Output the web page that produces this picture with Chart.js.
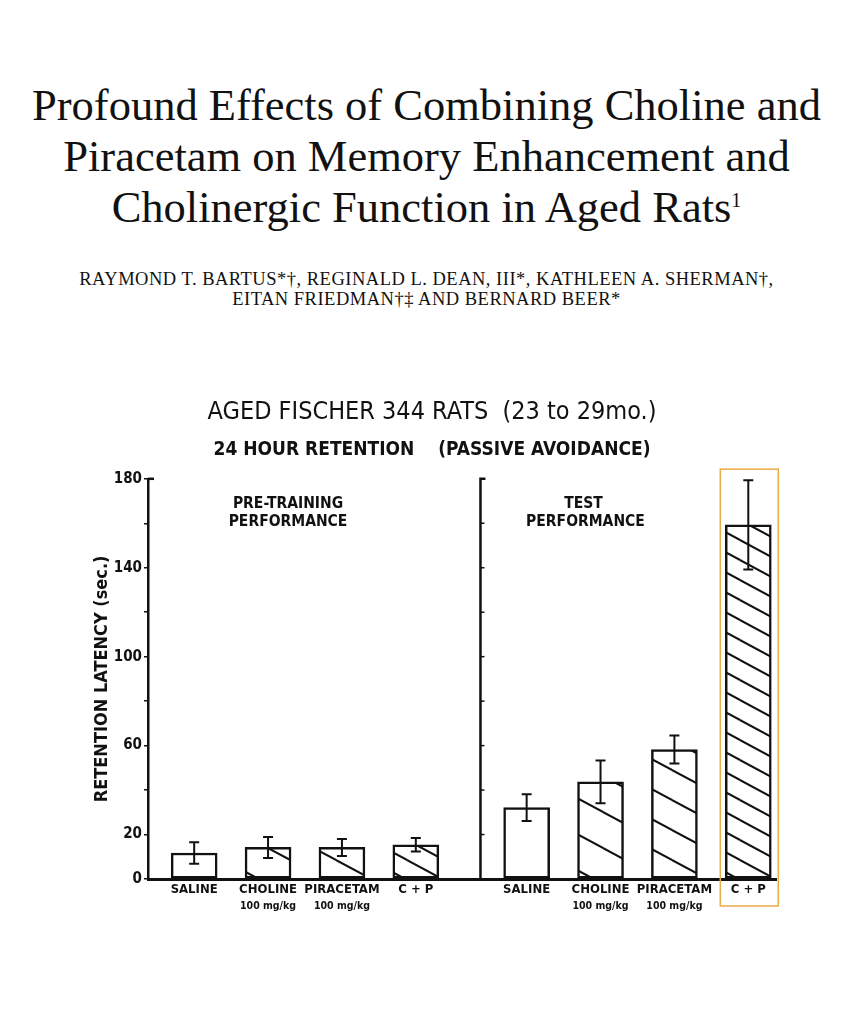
<!DOCTYPE html>
<html>
<head>
<meta charset="utf-8">
<script src="https://cdn.jsdelivr.net/npm/chart.js@4"></script>
<style>
  body { margin: 0; background: #fff; width: 853px; height: 1024px; position: relative; overflow: hidden; }
  .title {
    position: absolute; left: 0; top: 80px; width: 853px; text-align: center;
    font-family: "Liberation Serif", "Times New Roman", serif; font-size: 44.5px; line-height: 51px; color: #111;
  }
  .title sup { font-size: 20px; vertical-align: baseline; position: relative; top: -15px; }
  .authors {
    position: absolute; left: 0; top: 269px; width: 853px; text-align: center;
    font-family: "Liberation Serif", "Times New Roman", serif; font-size: 18.5px; letter-spacing: 0.5px;
    line-height: 20px; color: #111;
  }
  #wrap { position: absolute; left: 0; top: 380px; width: 853px; height: 560px; }
</style>
</head>
<body>
<div class="title">Profound Effects of Combining Choline and<br>Piracetam on Memory Enhancement and<br>Cholinergic Function in Aged Rats<sup>1</sup></div>
<div class="authors">RAYMOND T. BARTUS*†, REGINALD L. DEAN, III*, KATHLEEN A. SHERMAN†,<br>EITAN FRIEDMAN†‡ AND BERNARD BEER*</div>
<div id="wrap"><canvas id="chart" width="853" height="560"></canvas></div>
<script>
// data
const treatments = ["SALINE", "CHOLINE", "PIRACETAM", "C + P"];
const doses = ["", "100 mg/kg", "100 mg/kg", ""];
const preTraining = [11.7, 14.2, 14.2, 15.4];
const preTrainingSem = [4.8, 4.7, 3.8, 3.0];
const testScores = [32.1, 43.7, 58.2, 159.3];
const testSem = [6.0, 9.6, 6.3, 20.1];
const yTickLabels = [0, 20, 60, 100, 140, 180];

const FONT = '"DejaVu Sans Condensed", "Liberation Sans Narrow", "DejaVu Sans", sans-serif';
const INK = "#111";

// spread the bars over quarter slots so the two groups sit apart
const SLOTS = 34;
const labels = new Array(SLOTS).fill("");
const values = new Array(SLOTS).fill(null);
const errs = new Array(SLOTS).fill(null);
const doseAt = new Array(SLOTS).fill("");
const kind = new Array(SLOTS).fill(-1);
treatments.forEach((t, i) => {
  [[2, preTraining, preTrainingSem], [20, testScores, testSem]].forEach(([start, vals, sem]) => {
    const s = start + 4 * i;
    labels[s] = t;
    values[s] = vals[i];
    errs[s] = sem[i];
    doseAt[s] = doses[i];
    kind[s] = i;
  });
});
const lastTest = 20 + 4 * (treatments.length - 1);

function hatch(period) {
  const h = period, w = Math.round(period / 0.54);
  const c = document.createElement("canvas");
  c.width = w; c.height = h;
  const g = c.getContext("2d");
  g.fillStyle = "#fff";
  g.fillRect(0, 0, w, h);
  g.strokeStyle = INK;
  g.lineWidth = 2;
  for (const dx of [-w, 0, w]) {
    for (const dy of [-h, 0, h]) {
      g.beginPath();
      g.moveTo(dx, dy);
      g.lineTo(dx + w, dy + h);
      g.stroke();
    }
  }
  return g.createPattern(c, "repeat");
}
const fills = ["#fff", hatch(36), hatch(30), hatch(20)];

const extras = {
  id: "extras",
  afterDatasetsDraw(chart) {
    const { ctx, chartArea: a, scales: { x, y } } = chart;
    const meta = chart.getDatasetMeta(0);
    ctx.save();
    ctx.strokeStyle = INK;
    ctx.fillStyle = INK;

    // error bars
    ctx.lineWidth = 2;
    meta.data.forEach((bar, i) => {
      if (errs[i] == null) return;
      const top = y.getPixelForValue(values[i] + errs[i]);
      const bot = y.getPixelForValue(values[i] - errs[i]);
      ctx.beginPath();
      ctx.moveTo(bar.x, top); ctx.lineTo(bar.x, bot);
      ctx.moveTo(bar.x - 5, top); ctx.lineTo(bar.x + 5, top);
      ctx.moveTo(bar.x - 5, bot); ctx.lineTo(bar.x + 5, bot);
      ctx.stroke();
    });

    // divider between the two panels, with its own ticks
    const dx = x.getPixelForValue(17.5);
    ctx.lineWidth = 2.5;
    ctx.beginPath();
    ctx.moveTo(dx + 5, a.top); ctx.lineTo(dx, a.top); ctx.lineTo(dx, a.bottom);
    ctx.stroke();
    ctx.lineWidth = 1.5;
    for (let v = 20; v < 180; v += 20) {
      const py = y.getPixelForValue(v);
      ctx.beginPath(); ctx.moveTo(dx, py); ctx.lineTo(dx + 4, py); ctx.stroke();
    }
    // cap on the y axis
    ctx.lineWidth = 2.5;
    ctx.beginPath(); ctx.moveTo(a.left, a.top); ctx.lineTo(a.left + 6, a.top); ctx.stroke();

    // panel headings
    ctx.font = "bold 15.5px " + FONT;
    ctx.textAlign = "center";
    ctx.textBaseline = "middle";
    ctx.fillText("PRE-TRAINING", a.left + 140, a.top + 25);
    ctx.fillText("PERFORMANCE", a.left + 140, a.top + 43);
    ctx.fillText("TEST", dx + 103, a.top + 25);
    ctx.fillText("PERFORMANCE", dx + 105, a.top + 43);

    // dose line under the labels
    ctx.font = "bold 10.5px " + FONT;
    meta.data.forEach((bar, i) => {
      if (doseAt[i]) ctx.fillText(doseAt[i], bar.x, a.bottom + 27.5);
    });

    // highlight around the combined treatment bar
    const hb = meta.data[lastTest];
    const hTop = y.getPixelForValue(values[lastTest] + errs[lastTest]);
    ctx.strokeStyle = "#ebaa48";
    ctx.lineWidth = 1.5;
    ctx.strokeRect(hb.x - 28, hTop - 11, 58, a.bottom + 27 - (hTop - 11));
    ctx.restore();
  }
};

new Chart(document.getElementById("chart"), {
  type: "bar",
  data: {
    labels: labels,
    datasets: [{
      data: values,
      backgroundColor: kind.map(k => (k < 0 ? "#fff" : fills[k])),
      borderColor: INK,
      borderWidth: 2.5,
      borderSkipped: false,
      barThickness: 46
    }]
  },
  options: {
    responsive: false,
    animation: false,
    devicePixelRatio: 1,
    layout: { padding: { left: 88, right: 77, top: 0, bottom: 0 } },
    plugins: {
      legend: { display: false },
      tooltip: { enabled: false },
      title: {
        display: true,
        text: "AGED FISCHER 344 RATS  (23 to 29mo.)",
        color: INK,
        font: { family: FONT, size: 25, weight: "normal" },
        padding: { top: 17, bottom: 8 }
      },
      subtitle: {
        display: true,
        text: "24 HOUR RETENTION    (PASSIVE AVOIDANCE)",
        color: INK,
        font: { family: FONT, size: 19, weight: "bold" },
        padding: { top: 4, bottom: 17 }
      }
    },
    scales: {
      x: {
        afterFit(scale) { scale.height = 61; },
        border: { display: true, color: INK, width: 3 },
        grid: { display: false, drawTicks: false },
        ticks: {
          autoSkip: false, maxRotation: 0, minRotation: 0, padding: 3, color: INK,
          font: { family: FONT, size: 13, weight: "bold" }
        }
      },
      y: {
        min: 0,
        max: 180,
        afterFit(scale) { scale.width = 60; },
        border: { display: true, color: INK, width: 2.5 },
        grid: { display: true, drawOnChartArea: false, drawTicks: true, tickLength: 4, color: INK, lineWidth: 1.5 },
        ticks: {
          stepSize: 20, padding: 2, color: INK,
          font: { family: FONT, size: 15, weight: "bold" },
          callback: v => (yTickLabels.includes(v) ? String(v) : "")
        },
        title: {
          display: true,
          text: "RETENTION LATENCY (sec.)",
          color: INK,
          font: { family: FONT, size: 18, weight: "bold" },
          padding: { top: 4, bottom: 0 }
        }
      }
    }
  },
  plugins: [extras]
});
</script>
</body>
</html>
